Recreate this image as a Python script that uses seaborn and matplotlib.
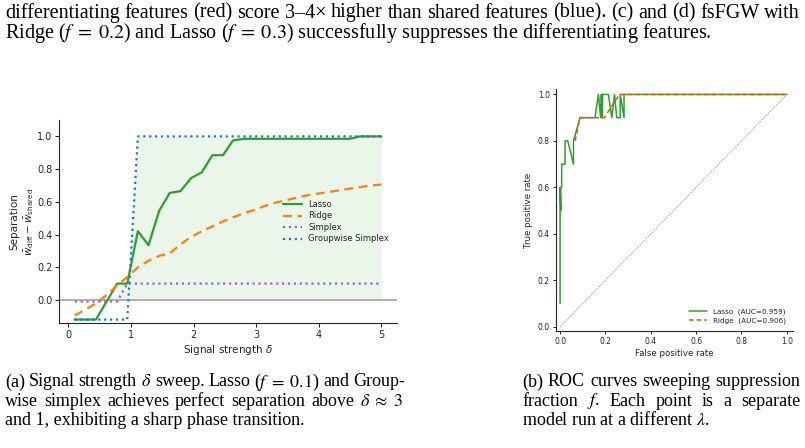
import re
import matplotlib
matplotlib.use("Agg")
import matplotlib.pyplot as plt
import seaborn as sns
import numpy as np

# --- (a) signal strength sweep ---
delta = [0.10, 0.27, 0.44, 0.61, 0.78, 0.94, 1.11, 1.28, 1.45, 1.62,
         1.79, 1.96, 2.13, 2.30, 2.47, 2.63, 2.80, 2.97, 3.14, 3.31,
         3.48, 3.65, 3.82, 3.99, 4.16, 4.32, 4.49, 4.66, 4.83, 5.00]
lasso = [-0.12, -0.12, -0.12, -0.01, 0.10, 0.10, 0.42, 0.335, 0.545, 0.655,
         0.665, 0.745, 0.78, 0.885, 0.885, 0.975, 0.985, 0.985, 0.985, 0.985,
         0.985, 0.985, 0.985, 0.985, 0.985, 0.985, 0.985, 1.0, 1.0, 1.0]
ridge = [-0.095, -0.06, -0.02, 0.03, 0.09, 0.14, 0.20, 0.24, 0.27, 0.285,
         0.34, 0.385, 0.42, 0.45, 0.48, 0.505, 0.53, 0.55, 0.575, 0.595,
         0.61, 0.625, 0.64, 0.65, 0.66, 0.67, 0.68, 0.69, 0.70, 0.705]
simplex = [-0.01, -0.01, -0.01, -0.01, -0.01, 0.10, 0.10, 0.10, 0.10, 0.10,
           0.10, 0.10, 0.10, 0.10, 0.10, 0.10, 0.10, 0.10, 0.10, 0.10,
           0.10, 0.10, 0.10, 0.10, 0.10, 0.10, 0.10, 0.10, 0.10, 0.10]
groupwise = [-0.12, -0.12, -0.12, -0.12, -0.12, -0.12, 1.0, 1.0, 1.0, 1.0,
             1.0, 1.0, 1.0, 1.0, 1.0, 1.0, 1.0, 1.0, 1.0, 1.0,
             1.0, 1.0, 1.0, 1.0, 1.0, 1.0, 1.0, 1.0, 1.0, 1.0]

# --- (b) ROC points (unsorted, one per model run) ---
fpr_lasso = [0.0, 0.0, 0.003, 0.003, 0.007, 0.007, 0.022, 0.022, 0.034, 0.059,
             0.059, 0.088, 0.154, 0.169, 0.179, 0.182, 0.185, 0.188, 0.213, 0.228,
             0.240, 0.250, 0.265, 0.265, 0.282, 0.282, 1.0]
tpr_lasso = [0.1, 0.6, 0.5, 0.6, 0.6, 0.7, 0.7, 0.8, 0.8, 0.7,
             0.8, 0.9, 0.9, 1.0, 0.9, 1.0, 0.9, 1.0, 1.0, 0.9,
             1.0, 0.9, 0.9, 1.0, 0.9, 1.0, 1.0]
fpr_ridge = [0.066, 0.088, 0.195, 0.262, 1.0]
tpr_ridge = [0.80, 0.90, 0.90, 1.0, 1.0]
auc_lasso = 0.959
auc_ridge = 0.906

top_lines = [
    "differentiating features (red) score 3\u20134\u00d7 higher than shared features (blue). (c) and (d) fsFGW with",
    r"Ridge ($f\;=\;0.2$) and Lasso ($f\;=\;0.3$) successfully suppresses the differentiating features.",
]
cap_a = [
    r"(a) Signal strength $\delta$ sweep. Lasso ($f\;=\;0.1$) and Group-",
    r"wise simplex achieves perfect separation above $\delta \;\approx\; 3$",
    "and 1, exhibiting a sharp phase transition.",
]
cap_b = [
    "(b) ROC curves sweeping suppression",
    r"fraction $f$. Each point is a separate",
    r"model run at a different $\lambda$.",
]

sns.set_style("ticks")
plt.rcParams["font.family"] = ["DejaVu Sans"]

W, H = 805, 448
fig = plt.figure(figsize=(W / 100, H / 100), dpi=100)
ax1 = fig.add_axes([0.0737, 0.2783, 0.4191, 0.4538])
ax2 = fig.add_axes([0.6907, 0.2618, 0.2940, 0.5388])

# shaded area under the best curve
best = np.maximum(np.array(lasso), np.array(groupwise))
ax1.fill_between(delta, 0, best, where=best > 0, color="#2ca02c", alpha=0.09, lw=0)
ax1.axhline(0, color="#aaaaaa", lw=1.3, zorder=1)

sns.lineplot(x=delta, y=lasso, ax=ax1, color="#2ca02c", lw=1.6, label="Lasso")
sns.lineplot(x=delta, y=ridge, ax=ax1, color="#ff7f0e", lw=1.6, linestyle=(0, (4, 2.5)), label="Ridge")
sns.lineplot(x=delta, y=simplex, ax=ax1, color="#9467bd", lw=1.6, linestyle=":", label="Simplex")
sns.lineplot(x=delta, y=groupwise, ax=ax1, color="#1f77b4", lw=1.6, linestyle=":", label="Groupwise Simplex")

ax1.set_xlim(-0.145, 5.245)
ax1.set_ylim(-0.143, 1.1)
ax1.set_xticks([0, 1, 2, 3, 4, 5])
ax1.set_yticks([0.0, 0.2, 0.4, 0.6, 0.8, 1.0])
ax1.tick_params(labelsize=7, length=3, width=0.8, pad=2)
ax1.set_xlabel(r"Signal strength $\delta$", fontsize=7.5, labelpad=2)
ax1.set_ylabel("Separation\n" + r"$\bar{w}_{\mathrm{diff}} - \bar{w}_{\mathrm{shared}}$", fontsize=7.5, labelpad=1)
ax1.legend(loc="center right", frameon=False, fontsize=6, labelspacing=0.3, handlelength=2.2)
sns.despine(ax=ax1)

# ROC
ax2.plot([0, 1], [0, 1], color="#999999", lw=0.6, linestyle=(0, (2, 1.5)))
sns.lineplot(x=fpr_lasso, y=tpr_lasso, ax=ax2, color="#2ca02c", lw=1.1, sort=False, estimator=None,
             label="Lasso  (AUC=%.3f)" % auc_lasso)
sns.lineplot(x=fpr_ridge, y=tpr_ridge, ax=ax2, color="#e6550d", lw=1.1, linestyle=(0, (3, 2)), sort=False,
             estimator=None, label="Ridge  (AUC=%.3f)" % auc_ridge)
ax2.set_xlim(-0.018, 1.026)
ax2.set_ylim(-0.017, 1.022)
ax2.set_xticks([0.0, 0.2, 0.4, 0.6, 0.8, 1.0])
ax2.set_yticks([0.0, 0.2, 0.4, 0.6, 0.8, 1.0])
ax2.tick_params(labelsize=5.5, length=2.5, width=0.7, pad=2)
ax2.set_xlabel("False positive rate", fontsize=6.2, labelpad=2)
ax2.set_ylabel("True positive rate", fontsize=6.2, labelpad=3)
ax2.legend(loc="lower right", frameon=False, fontsize=5.2, labelspacing=0.4, handlelength=2.6)
sns.despine(ax=ax2)

# surrounding paper text, justified like the PDF
serif = dict(family="Liberation Serif", math_fontfamily="stix", va="center", ha="left", color="black")
renderer = fig.canvas.get_renderer()


def put_line(x_px, y_px, line, size, width_px=None):
    if width_px is None:
        fig.text(x_px / W, 1 - y_px / H, line, fontsize=size, **serif)
        return
    words = re.findall(r"(?:\$[^$]*\$|\S)+", line)
    texts = [fig.text(x_px / W, 1 - y_px / H, w, fontsize=size, **serif) for w in words]
    widths = [t.get_window_extent(renderer).width for t in texts]
    gap = (width_px - sum(widths)) / (len(words) - 1)
    x = x_px
    for t, w in zip(texts, widths):
        t.set_x(x / W)
        x += w + gap


put_line(5, 13, top_lines[0], 14.5, 795)
put_line(5, 33, top_lines[1], 14.5)
put_line(5, 382, cap_a[0], 13, 400)
put_line(5, 401, cap_a[1], 13, 398)
put_line(5, 420, cap_a[2], 13)
put_line(522, 382, cap_b[0], 13, 278)
put_line(522, 401, cap_b[1], 13, 278)
put_line(522, 420, cap_b[2], 13)

fig.savefig("out.png", dpi=100)
